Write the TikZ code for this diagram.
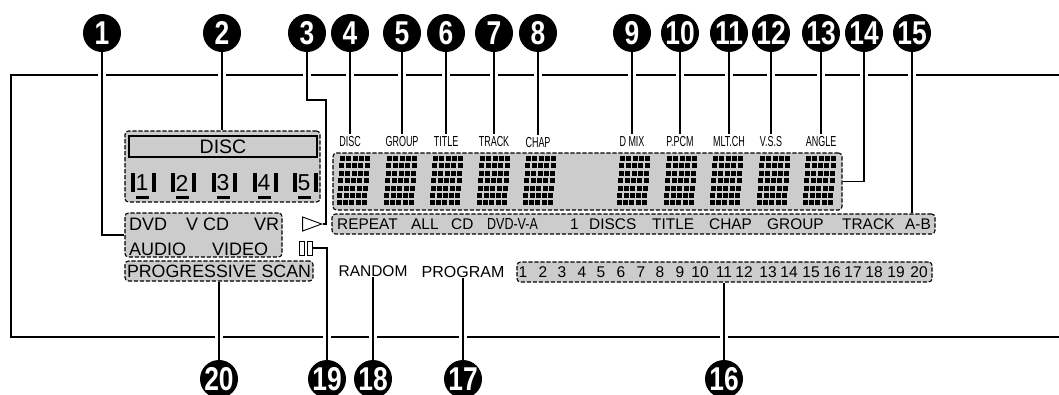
\documentclass[tikz,border=0pt]{standalone}
\usepackage{fontspec}
\setmainfont{Liberation Sans}
\newfontfamily\bubblefont[FakeStretch=0.8]{Liberation Sans}
\newfontfamily\narrowfont[FakeStretch=0.62]{Liberation Sans}
\newfontfamily\dvdfont[FakeStretch=0.78]{Liberation Sans}
\usetikzlibrary{positioning,shapes.geometric,backgrounds}

\newcommand{\fsize}[1]{\fontsize{#1}{#1}\selectfont}
\tikzset{
  bubble/.style={circle, fill=black, text=white, minimum size=38pt, inner sep=0pt,
    font=\bubblefont\bfseries\fsize{33}},
  leader/.style={line width=1.5pt, preaction={draw=white, line width=8pt}},
  zone/.style={draw, fill=black!20, rounded corners=3.5pt, line width=1.1pt,
    dash pattern=on 4.2pt off 1.8pt, inner sep=0pt},
  lbl/.style={inner sep=0pt, font=\fsize{15.4}},
  toplbl/.style={inner sep=0pt, outer ysep=3pt, font=\narrowfont\fsize{14.5}},
}

\begin{document}
\begin{tikzpicture}[x=1pt, y=-1pt]
\useasboundingbox (0,0) rectangle (1059,394);

% Callouts
\foreach \n/\x in {1/102,2/222,3/307,4/350,5/402,6/446,7/494,8/538,9/632,10/680,
  11/729,12/771,13/821,14/864,15/912}
  \node[bubble] (n\n) at (\x,33) {\n};
\foreach \n/\x in {16/724,17/463,18/373,19/327,20/219}
  \node[bubble] (n\n) at (\x,379) {\n};

% Zones
\node[zone, minimum width=195pt, minimum height=71pt] (discbox) at (222.5,166.5) {};
\node[draw, fill=black!20, line width=1.3pt, minimum width=188pt, minimum height=21pt,
  inner sep=0pt, font=\fsize{19.5}] (discbar) at (223,146.5) {DISC};
\node[zone, minimum width=157pt, minimum height=44pt] (dvdbox) at (203.5,235) {};
\node[zone, minimum width=188pt, minimum height=20pt, font=\fsize{17.8}]
  (progbox) at (219,271) {PROGRESSIVE SCAN};
\node[zone, minimum width=509pt, minimum height=57pt] (dispbox) at (587.5,181.5) {};
\node[zone, minimum width=603pt, minimum height=20pt] (repbox) at (633.5,224) {};
\node[zone, minimum width=415pt, minimum height=20pt] (numbox) at (724.5,272) {};

% Disc numbers
\foreach \n/\x in {1/142,2/182,3/223,4/264,5/304} {
  \node[inner sep=0pt, font=\fsize{23}] (disc\n) at (\x,183) {\n};
  \fill (\x-11,173) rectangle (\x-7,192);
  \fill (\x+10,173) rectangle (\x+14,192);
  \fill (\x-6.5,195.5) rectangle (\x+6.5,198.5);
}

% Dot matrix digits
\foreach \mx in {340,387,433,480,526,620,667,713,760,806}
  \foreach \c in {0,...,4}
    \foreach \r in {0,...,6}
      \fill (\mx+\c*6.3-\r*0.55,156+\r*7.4) rectangle ++(5,5);

% Small indicators
\node[toplbl] (disclbl) at (350,142) {DISC};
\node[toplbl] (grouplbl) at (402,142) {GROUP};
\node[toplbl] (titlelbl) at (446,142) {TITLE};
\node[toplbl] (tracklbl) at (494,142) {TRACK};
\node[toplbl] (chaplbl) at (538,143) {CHAP};
\node[toplbl] (dmixlbl) at (632,142) {D MIX};
\node[toplbl] (pcmlbl) at (680,142) {P.PCM};
\node[toplbl] (mltlbl) at (729,142) {MLT.CH};
\node[toplbl] (vsslbl) at (771,142) {V.S.S};
\node[toplbl] (anglelbl) at (821,142) {ANGLE};

% Source and format
\node[lbl, font=\fsize{18}, anchor=west] (dvdlbl) at (129,224) {DVD};
\node[lbl, font=\fsize{18}, anchor=west] (vcdlbl) at (186,224) {V CD};
\node[lbl, font=\fsize{18}, anchor=west] (vrlbl) at (254,224) {VR};
\node[lbl, font=\fsize{18}, anchor=west] (audiolbl) at (129,249) {AUDIO};
\node[lbl, font=\fsize{18}, anchor=west] (videolbl) at (212,249) {VIDEO};

% Repeat row
\foreach \t/\x in {REPEAT/337,ALL/411,CD/451,1/570,DISCS/589,TITLE/652,CHAP/709,GROUP/767,TRACK/842,A-B/905}
  \node[lbl, anchor=west] (rep\t) at (\x,224) {\t};
\node[lbl, font=\dvdfont\fsize{16}, anchor=west] (repdvd) at (487,224) {DVD-V-A};

% Track numbers
\foreach \n/\x in {1/523,2/543,3/562,4/582,5/601,6/621,7/641,8/660,9/680,10/700,
  11/724,12/744,13/768,14/789,15/811,16/832,17/853,18/874,19/896,20/919}
  \node[lbl, font=\fsize{15.5}] (trk\n) at (\x,272) {\n};

% Marks
\node[draw, fill=white, isosceles triangle, isosceles triangle stretches, line width=0.9pt,
  minimum height=19pt, minimum width=14pt, inner sep=0pt] (playmark) at (307.5,224) {};
\node[draw, fill=white, line width=0.9pt, minimum width=5pt, minimum height=14pt, inner sep=0pt]
  (pausea) at (301.5,248) {};
\node[draw, fill=white, line width=0.9pt, minimum width=5pt, minimum height=14pt, inner sep=0pt]
  (pauseb) at (309.5,248) {};
\node[lbl, font=\fsize{15.5}] (randomlbl) at (373,271) {RANDOM};
\node[lbl, font=\fsize{16}] (programlbl) at (463,272) {PROGRAM};

\begin{pgfonlayer}{background}
% Panel outline
\draw[line width=1.8pt] (1059,75) -- (11,75) -- (11,337) -- (1059,337);

% Leaders
\coordinate (bendc) at (326,100);
\draw[leader] (n1) |- (dvdbox.west);
\draw[leader] (n2) -- (n2 |- discbox.north);
\draw[leader] (n3) |- (bendc) |- (playmark.apex);
\draw[leader] (n4) -- (disclbl.north);
\draw[leader] (n5) -- (grouplbl.north);
\draw[leader] (n6) -- (titlelbl.north);
\draw[leader] (n7) -- (tracklbl.north);
\draw[leader] (n8) -- (chaplbl.north);
\draw[leader] (n9) -- (dmixlbl.north);
\draw[leader] (n10) -- (pcmlbl.north);
\draw[leader] (n11) -- (mltlbl.north);
\draw[leader] (n12) -- (vsslbl.north);
\draw[leader] (n13) -- (anglelbl.north);
\draw[leader] (n14) |- (dispbox.east);
\draw[leader] (n15) -- (n15 |- repbox.north);
\draw[leader] (n16) -- (n16 |- numbox.south);
\draw[leader] (n17) -- (programlbl.south);
\draw[leader] (n18) -- (randomlbl.south);
\draw[leader] (n19) |- (pauseb.east);
\draw[leader] (n20) -- (n20 |- progbox.south);
\end{pgfonlayer}
\end{tikzpicture}
\end{document}
